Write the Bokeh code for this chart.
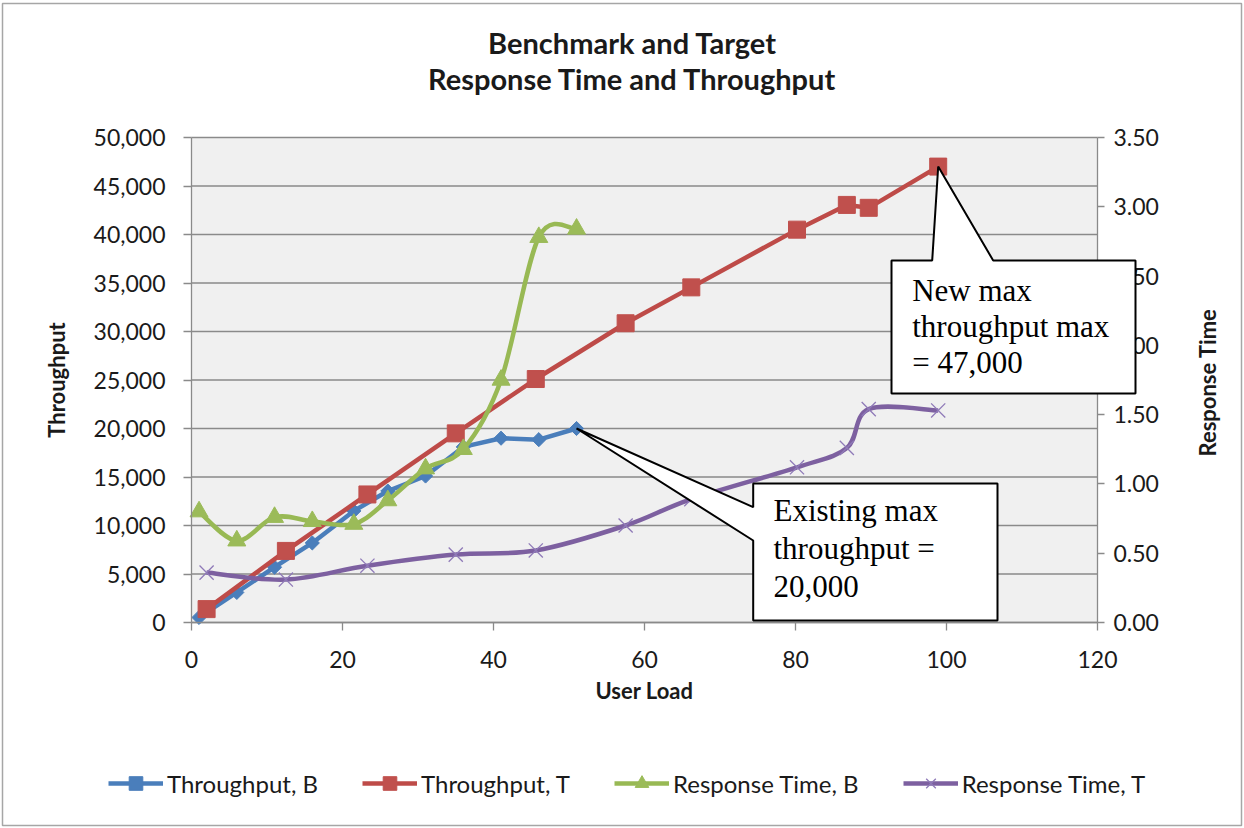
import math

from bokeh.plotting import figure
from bokeh.models import (Range1d, LinearAxis, FixedTicker, NumeralTickFormatter,
                          Legend, LegendItem, Label, PolyAnnotation, BoxAnnotation)
from bokeh.embed import file_html
from bokeh.resources import INLINE

# ---- data -------------------------------------------------------------
load_b = [1, 6, 11, 16, 21.5, 26, 31, 36, 41, 46, 51]
load_t = [2, 12.5, 23.3, 35, 45.6, 57.5, 66.2, 80.2, 86.8, 89.7, 98.9]

throughput_b = [520, 3100, 5700, 8200, 11500, 13550, 15100, 18100, 19000, 18850, 20000]
throughput_t = [1380, 7380, 13200, 19500, 25100, 30850, 34550, 40500, 43050, 42750, 47000]
response_b = [0.80, 0.59, 0.76, 0.73, 0.71, 0.88, 1.11, 1.25, 1.75, 2.78, 2.84]
response_t = [0.36, 0.31, 0.41, 0.49, 0.52, 0.70, 0.89, 1.12, 1.26, 1.54, 1.53]

x_ticks = [0, 20, 40, 60, 80, 100, 120]
thr_ticks = [0, 5000, 10000, 15000, 20000, 25000, 30000, 35000, 40000, 45000, 50000]
rt_ticks = [0.0, 0.5, 1.0, 1.5, 2.0, 2.5, 3.0, 3.5]

series_names = ["Throughput, B", "Throughput, T", "Response Time, B", "Response Time, T"]

BLUE = "#4a7ebb"
RED = "#be4b48"
GREEN = "#98b954"
PURPLE = "#7d60a0"
GRID = "#8a8a8a"
INK = "#1a1a1a"
SANS = "Lato"
SERIF = "Liberation Serif"

W, H = 1244, 828
# plot area inside the canvas (pixels): left, right, top, bottom
PL, PR, PT, PB = 191, 1097, 137, 622


def smooth_segments(xs, ys):
    """Cubic Bezier segments through the points (cardinal spline, 1/6 tangent)."""
    n = len(xs)
    seg = {k: [] for k in ("x0", "y0", "x1", "y1", "cx0", "cy0", "cx1", "cy1")}
    for i in range(n - 1):
        xp, yp = (xs[i - 1], ys[i - 1]) if i > 0 else (xs[i], ys[i])
        xn, yn = (xs[i + 2], ys[i + 2]) if i + 2 < n else (xs[i + 1], ys[i + 1])
        seg["x0"].append(xs[i]); seg["y0"].append(ys[i])
        seg["x1"].append(xs[i + 1]); seg["y1"].append(ys[i + 1])
        seg["cx0"].append(xs[i] + (xs[i + 1] - xp) / 6.0)
        seg["cy0"].append(ys[i] + (ys[i + 1] - yp) / 6.0)
        seg["cx1"].append(xs[i + 1] - (xn - xs[i]) / 6.0)
        seg["cy1"].append(ys[i + 1] - (yn - ys[i]) / 6.0)
    return seg


def span(lo, hi, p_lo, p_hi, size, flip=False):
    """Range whose [lo, hi] lands on pixels [p_lo, p_hi] of a canvas of given size."""
    k = (hi - lo) / (p_hi - p_lo)
    if flip:  # pixel axis grows downward
        return Range1d(lo - (size - p_hi) * k, hi + p_lo * k)
    return Range1d(lo - p_lo * k, hi + (size - p_hi) * k)


x_lo, x_hi = x_ticks[0], x_ticks[-1]
t_lo, t_hi = thr_ticks[0], thr_ticks[-1]
r_lo, r_hi = rt_ticks[0], rt_ticks[-1]

p = figure(width=W, height=H, output_backend="svg", toolbar_location=None,
           x_range=span(x_lo, x_hi, PL, PR, W),
           y_range=span(t_lo, t_hi, PT, PB, H, flip=True),
           min_border=0, title=None)
p.extra_y_ranges = {"rt": span(r_lo, r_hi, PT, PB, H, flip=True)}

p.background_fill_color = "white"
p.border_fill_color = "white"
p.outline_line_color = None
p.xgrid.grid_line_color = None
p.ygrid.grid_line_color = None

# pixel -> data helpers for placing annotations
kx = (x_hi - x_lo) / (PR - PL)
ky = (t_hi - t_lo) / (PB - PT)


def dx(px):
    return x_lo + (px - PL) * kx


def dy(py):
    return t_lo + (PB - py) * ky


# plot area fill and horizontal gridlines
p.add_layout(BoxAnnotation(left=x_lo, right=x_hi, bottom=t_lo, top=t_hi,
                           fill_color="#f0f0f0", fill_alpha=1, line_color=None,
                           level="image"))
p.segment(x0=[x_lo] * len(thr_ticks), y0=thr_ticks, x1=[x_hi] * len(thr_ticks),
          y1=thr_ticks, line_color=GRID, line_width=1.3, level="underlay")


def style_axis(ax):
    ax.axis_line_color = GRID
    ax.axis_line_width = 1.3
    ax.major_tick_line_color = GRID
    ax.major_tick_line_width = 1.3
    ax.major_tick_in = 0
    ax.major_tick_out = 8
    ax.minor_tick_line_color = None
    ax.major_label_text_font = SANS
    ax.major_label_text_font_size = "23px"
    ax.major_label_text_color = INK
    ax.axis_label_text_font = SANS
    ax.axis_label_text_font_size = "22px"
    ax.axis_label_text_font_style = "bold"
    ax.axis_label_text_color = INK


xa = p.xaxis[0]
xa.fixed_location = t_lo
xa.bounds = (x_lo, x_hi)
xa.ticker = FixedTicker(ticks=x_ticks)
xa.axis_label = "User Load"
xa.major_label_standoff = 20
xa.axis_label_standoff = 6
style_axis(xa)

ya = p.yaxis[0]
ya.fixed_location = x_lo
ya.bounds = (t_lo, t_hi)
ya.ticker = FixedTicker(ticks=thr_ticks)
ya.formatter = NumeralTickFormatter(format="0,0")
ya.axis_label = "Throughput"
ya.major_label_standoff = 18
ya.axis_label_standoff = 21
style_axis(ya)

ra = LinearAxis(y_range_name="rt", ticker=FixedTicker(ticks=rt_ticks),
                formatter=NumeralTickFormatter(format="0.00"),
                fixed_location=x_hi, bounds=(r_lo, r_hi))
style_axis(ra)
ra.major_tick_out = 7
ra.major_label_standoff = 9
p.add_layout(ra, "right")

p.add_layout(Label(x=dx(1207), y=dy(382), text="Response Time", angle=math.pi / 2,
                   text_font=SANS, text_font_size="22px", text_font_style="bold",
                   text_color=INK, text_align="center", text_baseline="middle"))

# ---- series -----------------------------------------------------------
r_b_line = p.line(load_b, throughput_b, line_color=BLUE, line_width=4.5)
r_b_mark = p.scatter(load_b, throughput_b, marker="square", angle=math.pi / 4, size=10,
                     fill_color=BLUE, line_color=BLUE)

r_t_line = p.line(load_t, throughput_t, line_color=RED, line_width=4.5)
r_t_mark = p.scatter(load_t, throughput_t, marker="square", size=17,
                     fill_color="#c0504d", line_color="#c0504d")

seg_g = smooth_segments(load_b, response_b)
r_g_line = p.bezier(line_color=GREEN, line_width=4.5, y_range_name="rt", **seg_g)
r_g_mark = p.scatter(load_b, response_b, marker="triangle", size=18,
                     fill_color="#9bbb59", line_color="#9bbb59", y_range_name="rt")

seg_p = smooth_segments(load_t, response_t)
r_p_line = p.bezier(line_color=PURPLE, line_width=4.5, y_range_name="rt", **seg_p)
r_p_mark = p.scatter(load_t, response_t, marker="x", size=20,
                     line_color="#8f7ab8", line_width=1.3, y_range_name="rt")

legend = Legend(items=[
    LegendItem(label=series_names[0], renderers=[r_b_line, r_b_mark]),
    LegendItem(label=series_names[1], renderers=[r_t_line, r_t_mark]),
    LegendItem(label=series_names[2], renderers=[r_g_line, r_g_mark]),
    LegendItem(label=series_names[3], renderers=[r_p_line, r_p_mark]),
], orientation="horizontal", location=(108, 28),
    label_text_font=SANS, label_text_font_size="24px", label_text_color=INK,
    glyph_width=55, glyph_height=34, label_height=24, label_standoff=4,
    spacing=44, padding=2, margin=0,
    border_line_color=None, background_fill_alpha=0)
p.add_layout(legend, "center")

# ---- callouts ---------------------------------------------------------
tx1, ty1 = load_t[-1], throughput_t[-1]
p.add_layout(PolyAnnotation(
    xs=[dx(891), dx(931.7), tx1, dx(992.7), dx(1135), dx(1135), dx(891)],
    ys=[dy(260), dy(260), ty1, dy(260), dy(260), dy(393), dy(393)],
    fill_color="white", fill_alpha=1, line_color="black", line_alpha=1, line_width=2))

tx2, ty2 = load_b[-1], throughput_b[-1]
p.add_layout(PolyAnnotation(
    xs=[dx(752.7), dx(997), dx(997), dx(752.7), dx(752.7), tx2, dx(752.7)],
    ys=[dy(483), dy(483), dy(620), dy(620), dy(540), ty2, dy(506.7)],
    fill_color="white", fill_alpha=1, line_color="black", line_alpha=1, line_width=2))

for txt, py in [("New max", 290), ("throughput max", 326), ("=  47,000", 362)]:
    p.add_layout(Label(x=dx(911.7), y=dy(py), text=txt, text_font=SERIF,
                       text_font_size="31px", text_color="black",
                       text_baseline="alphabetic"))

for txt, py in [("Existing max", 510), ("throughput =", 548), ("20,000", 586)]:
    p.add_layout(Label(x=dx(773), y=dy(py), text=txt, text_font=SERIF,
                       text_font_size="31px", text_color="black",
                       text_baseline="alphabetic"))

# ---- chart title ------------------------------------------------------
for txt, py in [("Benchmark and Target", 42), ("Response Time and Throughput", 78)]:
    p.add_layout(Label(x=dx(632), y=dy(py), text=txt, text_font=SANS,
                       text_font_size="29px", text_font_style="bold", text_color=INK,
                       text_align="center", text_baseline="alphabetic"))

# ---- outer chart border ----------------------------------------------
p.add_layout(BoxAnnotation(left=dx(2), right=dx(1241), top=dy(3), bottom=dy(825),
                           fill_alpha=0, line_color="#a6a6a6", line_alpha=1,
                           line_width=1.5))

open("out.html", "w").write(file_html(p, INLINE))
